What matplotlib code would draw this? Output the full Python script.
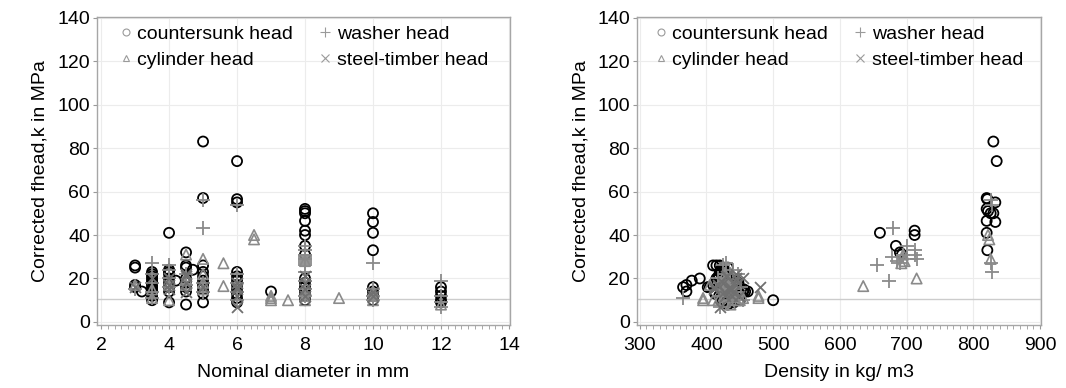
import matplotlib
matplotlib.use("Agg")
import matplotlib.pyplot as plt
from matplotlib.lines import Line2D
from matplotlib.ticker import MultipleLocator

plt.rcParams['font.family'] = ['Liberation Sans', 'DejaVu Sans']

# Countersunk head specimens: nominal diameter (mm), density (kg/m3), f_head,k (MPa)
cs_d = [5, 6, 5, 6, 6, 8, 8, 8, 8, 10, 10, 10, 10,
        4, 8, 8, 8, 4.5, 8,
        3, 3, 3, 3, 3.2,
        3.5, 3.5, 3.5, 3.5, 3.5, 3.5, 3.5, 3.5, 3.5, 3.5, 3.5, 3.5, 3.5,
        4, 4, 4, 4, 4, 4, 4, 4, 4.2,
        4.5, 4.5, 4.5, 4.5, 4.5, 4.5, 4.5, 4.7,
        5, 5, 5, 5, 5, 5, 5, 5,
        6, 6, 6, 6, 6, 6, 6, 6, 7,
        8, 8, 8, 8, 8, 8,
        10, 10, 10, 10,
        12, 12, 12, 12, 12]
cs_rho = [830, 835, 820, 821, 833, 820, 822, 826, 820, 830, 833, 820, 821,
          660, 712, 712, 684, 690, 693,
          410, 432, 370, 365, 370,
          420, 425, 418, 390, 440, 422, 435, 428, 445, 412, 450, 438, 426,
          427, 422, 433, 415, 442, 405, 455, 430, 378,
          415, 423, 436, 448, 402, 458, 432, 425,
          420, 424, 431, 444, 410, 452, 437, 428,
          426, 419, 438, 447, 456, 413, 434, 441, 462,
          418, 429, 446, 436, 423, 450,
          440, 425, 432, 500,
          428, 446, 419, 437, 424]
cs_f = [83, 74, 57, 56.5, 55, 52, 51, 50, 46.5, 50, 46, 41, 33,
        41, 42, 40, 35, 32, 31,
        26, 25, 17, 16, 14,
        23, 22, 21, 20, 19, 18, 17, 16, 15, 14, 13, 12, 10,
        24, 23, 22, 20, 18, 16, 14, 9, 19,
        26, 25, 20, 18, 16, 14, 8, 24,
        26, 23, 21, 19, 17, 15, 13, 9,
        23, 21, 19, 17, 15, 13, 11, 9, 14,
        20, 18, 16, 14, 12, 10,
        16, 14, 12, 10,
        16, 14, 12, 10, 9]

# Washer head specimens
wa_d = [5, 6, 10, 8,
        5, 8, 8, 8, 8, 8, 8, 8, 8, 8, 8, 8,
        3.5, 4, 4, 3.5, 12, 3.5, 3.5, 3.5, 4, 4, 4.5, 4.5, 5, 5,
        6, 6, 6, 6, 8, 8, 10, 10, 10, 12, 12, 12, 3]
wa_rho = [826, 828, 827, 828,
          680, 655, 673, 678, 686, 700, 712, 713, 715, 695, 690, 700,
          430, 425, 440, 365, 420, 428, 435, 445, 418, 452, 436, 424, 432, 441,
          447, 420, 433, 455, 440, 422, 430, 445, 436, 426, 438, 432, 420]
wa_f = [56, 54, 27, 23,
        43, 26, 19, 30, 28, 29, 33, 31, 29, 31, 27, 35,
        27, 26, 24, 11, 7, 22, 18, 14, 20, 16, 22, 17, 18, 14,
        22, 18, 14, 10, 15, 12, 15, 12, 10, 19, 12, 9, 15]

# Cylinder head specimens
cy_d = [6.5, 6.5, 5, 4.5, 5.6, 5.6, 4.5, 8,
        3, 3.5, 3.5, 4, 4, 4.5, 5, 5, 5, 7, 7, 7, 7.5, 8, 8, 8, 9, 10, 10, 10, 12]
cy_rho = [822, 824, 826, 695, 692, 635, 715, 697,
          405, 395, 440, 395, 430, 420, 428, 445, 437, 478, 478, 445, 410, 432, 426, 450,
          455, 440, 428, 418, 436]
cy_f = [40, 38, 29, 31, 27, 16.5, 20, 28,
        17, 11, 15, 10, 17, 17, 22, 18, 15, 12, 11, 10, 10, 14, 12, 10,
        11, 14, 12, 10, 8]

# Steel-timber head specimens
st_d = [3, 4, 4, 4, 4.5, 4.5, 4.5, 4.5, 5, 6, 6, 6, 6, 6, 8, 8, 8, 8, 10, 10, 3.5]
st_rho = [412, 418, 434, 445, 445, 425, 440, 430, 436, 480, 420, 428, 436, 442,
          431, 448, 412, 438, 426, 449, 455]
st_f = [16, 17, 15, 20, 22, 18, 14, 21, 16, 16, 7, 12, 15, 18,
        21, 18, 15, 12, 14, 12, 20]

ref_level = 10.5
labels = ['countersunk head', 'washer head', 'cylinder head', 'steel-timber head']

series = [
    (cs_d, cs_rho, cs_f, dict(marker='o', s=52, facecolors='none', edgecolors='black', linewidths=1.3)),
    (wa_d, wa_rho, wa_f, dict(marker='+', s=95, c='#8a8a8a', linewidths=1.3)),
    (cy_d, cy_rho, cy_f, dict(marker='^', s=56, facecolors='none', edgecolors='#8a8a8a', linewidths=1.2)),
    (st_d, st_rho, st_f, dict(marker='x', s=62, c='#707070', linewidths=1.3)),
]

fig = plt.figure(figsize=(10.66, 3.88), dpi=100)
ax1 = fig.add_axes([0.091, 0.1624, 0.3874, 0.7938])
ax2 = fig.add_axes([0.5976, 0.1624, 0.379, 0.7938])

legend_x = {0: 0.034, 1: 0.022}

for ax, which in ((ax1, 0), (ax2, 1)):
    for d, rho, f, kw in series:
        ax.scatter(d if which == 0 else rho, f, zorder=3, **kw)
    ax.axhline(ref_level, color='#cccccc', lw=1, zorder=2)
    ax.set_ylim(-1.4, 140.3)
    ax.yaxis.set_major_locator(MultipleLocator(20))
    ax.grid(True, which='major', color='#ececec', lw=0.8, zorder=0)
    for sp in ax.spines.values():
        sp.set_color('#a6a6a6')
        sp.set_linewidth(1)
    ax.tick_params(axis='both', which='major', labelsize=14, length=3, width=0.8,
                   color='#999999')
    ax.tick_params(axis='x', which='major', pad=6)
    ax.tick_params(axis='y', which='major', pad=2)
    ax.tick_params(axis='x', which='minor', length=3, width=0.6, color='#999999')
    ax.tick_params(axis='y', which='minor', length=0)
    ax.set_ylabel('Corrected fhead,k in MPa', fontsize=14, labelpad=6)

    # legend symbols are drawn small and grey; column-major order gives
    # countersunk/washer on the first row and cylinder/steel-timber on the second
    h_cs = Line2D([], [], ls='none', marker='o', ms=5, mfc='none', mec='#9a9a9a', mew=0.8)
    h_wa = Line2D([], [], ls='none', marker='+', ms=7, color='#9a9a9a', mew=0.8)
    h_cy = Line2D([], [], ls='none', marker='^', ms=5, mfc='none', mec='#9a9a9a', mew=0.8)
    h_st = Line2D([], [], ls='none', marker='x', ms=6, color='#9a9a9a', mew=0.8)
    ax.legend([h_cs, h_cy, h_wa, h_st], [labels[0], labels[2], labels[1], labels[3]],
              ncol=2, loc='upper left', bbox_to_anchor=(legend_x[which], 0.999),
              frameon=False, fontsize=14, handlelength=0.7, handletextpad=0.25,
              columnspacing=1.3, labelspacing=0.45, borderaxespad=0)

ax1.set_xlim(1.88, 14.03)
ax1.xaxis.set_major_locator(MultipleLocator(2))
ax1.xaxis.set_minor_locator(MultipleLocator(0.2))
ax1.set_xlabel('Nominal diameter in mm', fontsize=14, labelpad=7)

ax2.set_xlim(296, 901.5)
ax2.xaxis.set_major_locator(MultipleLocator(100))
ax2.xaxis.set_minor_locator(MultipleLocator(10))
ax2.set_xlabel('Density in kg/ m3', fontsize=14, labelpad=7)

fig.savefig('out.png', dpi=100)
